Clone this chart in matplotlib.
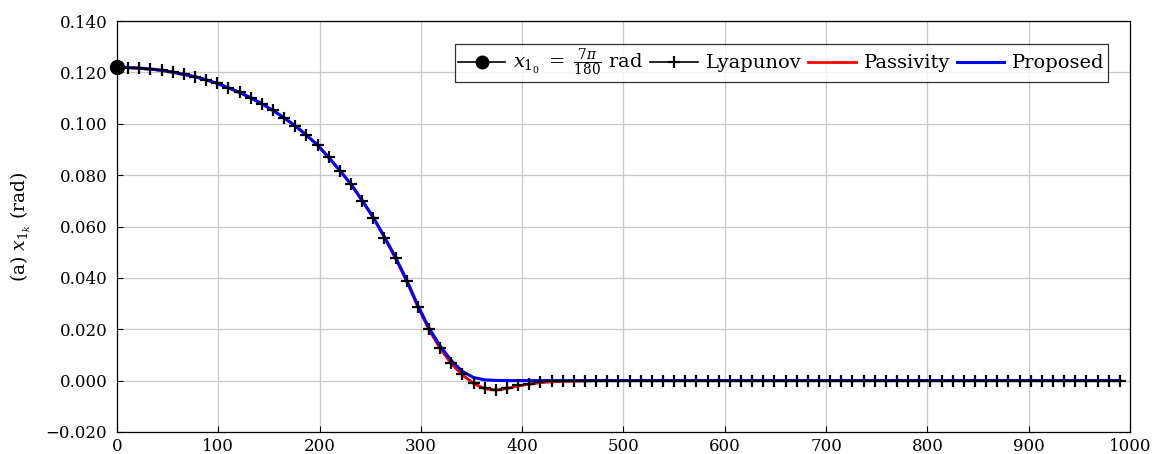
import numpy as np
import matplotlib
matplotlib.use("Agg")
import matplotlib.pyplot as plt
from matplotlib.lines import Line2D
from matplotlib.ticker import FuncFormatter

plt.rcParams['font.family'] = 'DejaVu Serif'
plt.rcParams['mathtext.fontset'] = 'dejavuserif'

# sample index (every 11 samples)
k = np.arange(0, 991, 11)

x10 = 0.1222  # 7*pi/180

lyapunov = [0.1222, 0.1219, 0.1216, 0.1213, 0.1208, 0.1201, 0.1192, 0.1183, 0.1171, 0.1157,
            0.1140, 0.1122, 0.1101, 0.1078, 0.1052, 0.1023, 0.0992, 0.0956, 0.0917, 0.0869,
            0.0818, 0.0764, 0.0700, 0.0634, 0.0557, 0.0477, 0.0387, 0.0288, 0.0200, 0.0127,
            0.0069, 0.0025, -0.0009, -0.0030, -0.0036, -0.0030, -0.0019, -0.0013, -0.0006, -0.0003,
            -0.0002, -0.0001, 0.0, 0.0, 0.0, 0.0, 0.0, 0.0, 0.0, 0.0,
            0.0, 0.0, 0.0, 0.0, 0.0, 0.0, 0.0, 0.0, 0.0, 0.0,
            0.0, 0.0, 0.0, 0.0, 0.0, 0.0, 0.0, 0.0, 0.0, 0.0,
            0.0, 0.0, 0.0, 0.0, 0.0, 0.0, 0.0, 0.0, 0.0, 0.0,
            0.0, 0.0, 0.0, 0.0, 0.0, 0.0, 0.0, 0.0, 0.0, 0.0,
            0.0]

passivity = [0.1222, 0.1219, 0.1216, 0.1213, 0.1208, 0.1201, 0.1192, 0.1183, 0.1171, 0.1157,
             0.1140, 0.1122, 0.1101, 0.1078, 0.1052, 0.1023, 0.0992, 0.0956, 0.0917, 0.0869,
             0.0818, 0.0764, 0.0700, 0.0634, 0.0557, 0.0476, 0.0386, 0.0287, 0.0198, 0.0125,
             0.0066, 0.0022, -0.0012, -0.0032, -0.0037, -0.0031, -0.0021, -0.0014, -0.0008, -0.0005,
             -0.0003, -0.0002, -0.0001, 0.0, 0.0, 0.0, 0.0, 0.0, 0.0, 0.0,
             0.0, 0.0, 0.0, 0.0, 0.0, 0.0, 0.0, 0.0, 0.0, 0.0,
             0.0, 0.0, 0.0, 0.0, 0.0, 0.0, 0.0, 0.0, 0.0, 0.0,
             0.0, 0.0, 0.0, 0.0, 0.0, 0.0, 0.0, 0.0, 0.0, 0.0,
             0.0, 0.0, 0.0, 0.0, 0.0, 0.0, 0.0, 0.0, 0.0, 0.0,
             0.0]

proposed = [0.1222, 0.1219, 0.1216, 0.1213, 0.1208, 0.1201, 0.1192, 0.1183, 0.1171, 0.1157,
            0.1140, 0.1122, 0.1101, 0.1078, 0.1052, 0.1023, 0.0992, 0.0956, 0.0917, 0.0869,
            0.0818, 0.0765, 0.0702, 0.0636, 0.0560, 0.0480, 0.0391, 0.0293, 0.0205, 0.0135,
            0.0078, 0.0036, 0.0012, 0.0003, 0.0001, 0.0, 0.0, 0.0, 0.0, 0.0,
            0.0, 0.0, 0.0, 0.0, 0.0, 0.0, 0.0, 0.0, 0.0, 0.0,
            0.0, 0.0, 0.0, 0.0, 0.0, 0.0, 0.0, 0.0, 0.0, 0.0,
            0.0, 0.0, 0.0, 0.0, 0.0, 0.0, 0.0, 0.0, 0.0, 0.0,
            0.0, 0.0, 0.0, 0.0, 0.0, 0.0, 0.0, 0.0, 0.0, 0.0,
            0.0, 0.0, 0.0, 0.0, 0.0, 0.0, 0.0, 0.0, 0.0, 0.0,
            0.0]

xticks = np.arange(0, 1001, 100)
yticks = np.arange(-0.02, 0.1401, 0.02)

fig = plt.figure(figsize=(11.58, 4.54), dpi=100)
ax = fig.add_axes([0.101, 0.0485, 0.8748, 0.9052])

# curves
ax.plot(k, lyapunov, color='black', lw=1.2, zorder=2)
ax.plot(k, passivity, color='red', lw=2.0, zorder=3)
ax.plot(k, proposed, color='blue', lw=2.2, zorder=4)
ax.plot(k, lyapunov, ls='none', marker='+', ms=9, mew=1.6, color='black', zorder=5)
ax.plot([0], [x10], ls='none', marker='o', ms=10, color='black', zorder=6, clip_on=False)

ax.set_xlim(0, 1000)
ax.set_ylim(-0.02, 0.14)
ax.set_xticks(xticks)
ax.set_yticks(yticks)
ax.yaxis.set_major_formatter(FuncFormatter(lambda v, p: ('%.3f' % v).replace('-', '\u2212')))
ax.tick_params(direction='in', labelsize=12, length=4)
ax.tick_params(axis='y', pad=7)
ax.tick_params(axis='x', pad=4)
ax.grid(True, color='#c8c8c8', lw=0.9)
ax.set_axisbelow(True)
for s in ax.spines.values():
    s.set_linewidth(0.9)

ax.set_ylabel(r'(a) $x_{1_k}$ (rad)', fontsize=13.5, labelpad=9)

handles = [
    Line2D([], [], color='black', lw=1.2, marker='o', ms=9),
    Line2D([], [], color='black', lw=1.2, marker='+', ms=9, mew=1.6),
    Line2D([], [], color='red', lw=2.0),
    Line2D([], [], color='blue', lw=2.2),
]
labels = [r'$x_{1_0}\;=\;\frac{7\pi}{180}$ rad', 'Lyapunov', 'Passivity', 'Proposed']
leg = ax.legend(handles, labels, loc='upper right', bbox_to_anchor=(0.978, 0.945),
                ncol=4, fontsize=14, frameon=True, fancybox=False, edgecolor='black',
                handlelength=2.45, handletextpad=0.4, columnspacing=0.35,
                borderaxespad=0, borderpad=0.15)
leg.get_frame().set_linewidth(0.9)

fig.savefig('out.png', dpi=100)
